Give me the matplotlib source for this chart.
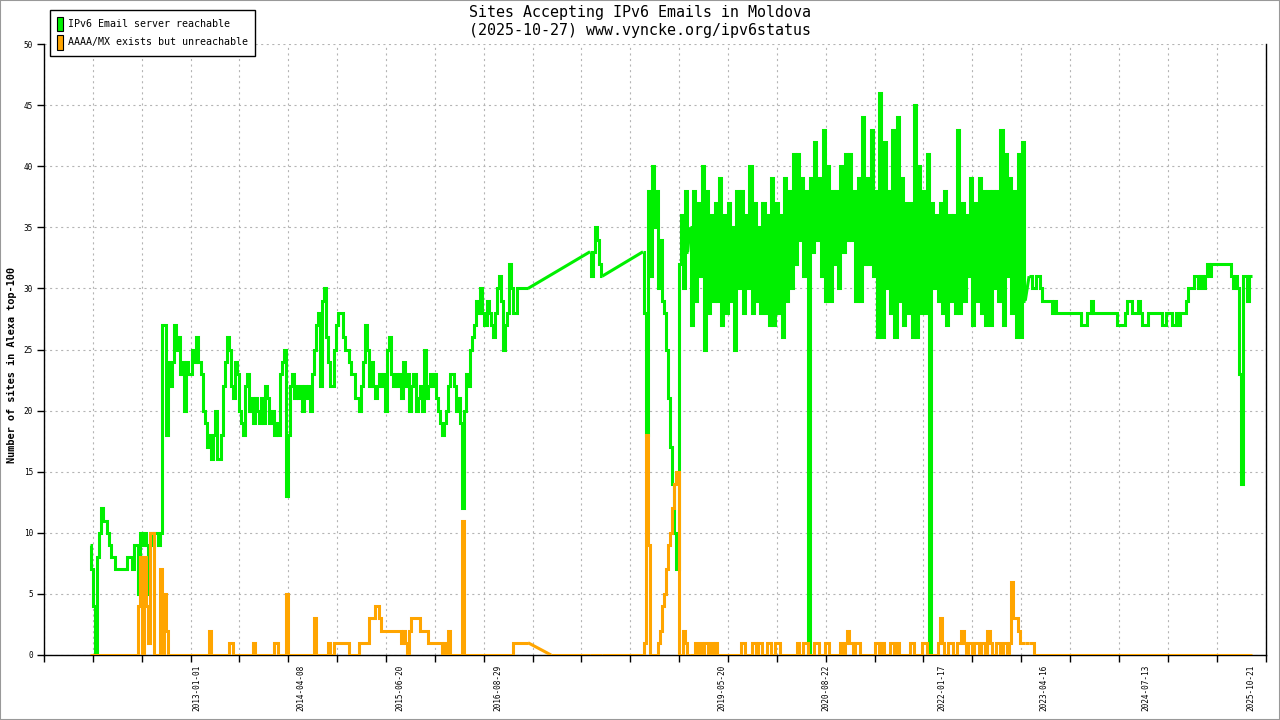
import numpy as np
import matplotlib
matplotlib.use('Agg')
import matplotlib.pyplot as plt
import matplotlib.dates as mdates
from matplotlib.patches import Patch, Rectangle

plt.rcParams['font.family'] = ['DejaVu Sans Mono']
plt.rcParams['lines.scale_dashes'] = False

# green = IPv6 Email server reachable, orange = AAAA/MX exists but unreachable
# each segment: start date, days between samples, values
g1_start, g1_step = '2011-09-14', 9.0
g1 = [9, 7, 4, 0, 8, 10, 12, 11, 11, 10,
      9, 8, 8, 7, 7, 7, 7, 7, 7, 8,
      8, 7, 9, 9, 5, 10, 9, 10, 9, 5,
      10, 9, 10, 10, 9, 10, 27, 27, 18, 24,
      22, 24, 27, 25, 26, 23, 24, 20, 24, 23,
      23, 25, 24, 26, 24, 23, 20, 19, 17, 18,
      16, 18, 20, 16, 16, 18, 22, 24, 26, 25,
      22, 21, 24, 23, 20, 19, 18, 22, 23, 20,
      21, 19, 21, 20, 19, 21, 19, 22, 21, 19,
      20, 18, 19, 18, 23, 24, 25, 13, 18, 22,
      23, 21, 22, 21, 22, 20, 22, 21, 22, 20,
      23, 25, 27, 28, 22, 29, 30, 26, 24, 22,
      22, 25, 27, 28, 28, 26, 25, 25, 24, 23,
      23, 21, 21, 20, 22, 24, 27, 25, 22, 24,
      22, 21, 22, 23, 22, 23, 20, 25, 26, 23,
      22, 23, 22, 23, 21, 24, 22, 23, 20, 22,
      23, 20, 21, 22, 20, 25, 21, 22, 23, 22,
      23, 21, 20, 19, 18, 19, 20, 22, 23, 23,
      22, 20, 21, 19, 12, 20, 23, 22, 25, 26,
      27, 29, 28, 30, 28, 27, 29, 28, 27, 26,
      28, 30, 31, 29, 25, 27, 28, 32, 30, 28,
      28, 30, 30, 30, 30, 30, 30]
o1 = [0, 0, 0, 0, 0, 0, 0, 0, 0, 0,
      0, 0, 0, 0, 0, 0, 0, 0, 0, 0,
      0, 0, 0, 0, 4, 8, 0, 8, 4, 1,
      10, 10, 0, 0, 0, 7, 0, 5, 2, 0,
      0, 0, 0, 0, 0, 0, 0, 0, 0, 0,
      0, 0, 0, 0, 0, 0, 0, 0, 0, 2,
      0, 0, 0, 0, 0, 0, 0, 0, 0, 1,
      1, 0, 0, 0, 0, 0, 0, 0, 0, 0,
      0, 1, 0, 0, 0, 0, 0, 0, 0, 0,
      0, 1, 1, 0, 0, 0, 0, 5, 0, 0,
      0, 0, 0, 0, 0, 0, 0, 0, 0, 0,
      0, 3, 0, 0, 0, 0, 0, 0, 1, 0,
      0, 1, 1, 1, 1, 1, 1, 1, 0, 0,
      0, 0, 0, 1, 1, 1, 1, 1, 3, 3,
      3, 4, 4, 3, 2, 2, 2, 2, 2, 2,
      2, 2, 2, 2, 1, 2, 1, 0, 2, 3,
      3, 3, 3, 2, 2, 2, 2, 1, 1, 1,
      1, 1, 1, 1, 0, 1, 0, 2, 0, 0,
      0, 0, 0, 0, 11, 0, 0, 0, 0, 0,
      0, 0, 0, 0, 0, 0, 0, 0, 0, 0,
      0, 0, 0, 0, 0, 0, 0, 0, 0, 1,
      1, 1, 1, 1, 1, 1, 1]

o_gap_dates = ['2017-04-21']
o_gap = [0]

g2_start, g2_step = '2017-10-11', 9.0
g2 = [33, 31, 33, 35, 34, 32, 31]
o2 = [0, 0, 0, 0, 0, 0, 0]

g3_start, g3_step = '2018-06-03', 9.0
g3 = [33, 28, 18, 38, 31, 40, 35, 38, 30, 34, 29, 28, 25, 21, 17, 14, 10, 7,
      32, 36, 30, 38, 33]
o3 = [0, 1, 18, 9, 0, 0, 0, 0, 1, 2, 4, 5, 7, 9, 10, 12, 14, 15,
      0, 0, 2, 1, 0]

g4_start, g4_step = '2018-12-28', 9.6
g4 = [35, 27, 38, 29, 37, 31, 40, 25, 38, 28, 36, 29, 37, 29, 39, 27, 36, 28, 37, 29,
      35, 25, 38, 30, 38, 28, 36, 30, 40, 28, 37, 29, 35, 28, 37, 28, 36, 27, 39, 27,
      37, 28, 36, 26, 39, 29, 38, 30, 41, 32, 41, 34, 39, 31, 38, 0, 39, 33, 42, 34,
      39, 31, 43, 29, 40, 29, 38, 32, 38, 30, 40, 33, 41, 34, 41, 34, 38, 29, 39, 29,
      44, 32, 39, 32, 43, 31, 38, 26,
      46, 26, 42, 30, 38, 28, 43, 26, 44, 29, 39, 27, 37, 28, 37, 26, 45, 26, 40, 28,
      38, 28, 41, 0, 37, 30, 36, 29, 37, 28, 38, 27, 36, 29, 36, 28, 43, 28, 37, 29,
      36, 31, 39, 27, 37, 29, 39, 28, 38, 27, 38, 27, 38, 30, 38, 29, 43, 27, 41, 31,
      39, 28, 38, 26, 41, 26, 42, 29]
o4 = [0, 0, 0, 1, 0, 1, 0, 1, 1, 0,
      1, 0, 1, 0, 0, 0, 0, 0, 0, 0,
      0, 0, 0, 0, 1, 1, 0, 0, 0, 1,
      1, 0, 1, 1, 0, 0, 1, 1, 0, 0,
      1, 1, 0, 0, 0, 0, 0, 0, 0, 0,
      1, 0, 0, 1, 1, 0, 0, 0, 1, 1,
      0, 0, 0, 1, 1, 0, 0, 0, 0, 0,
      1, 0, 1, 2, 1, 1, 0, 1, 1, 0,
      0, 0, 0, 0, 0, 0, 1, 1, 0, 1,
      0, 0, 0, 1, 1, 0, 1, 0, 0, 0,
      0, 0, 1, 1, 0, 0, 0, 0, 1, 1,
      0, 0, 0, 0, 0, 1, 3, 1, 0, 0,
      1, 1, 0, 0, 1, 1, 2, 1, 0, 1,
      1, 0, 1, 1, 0, 1, 1, 0, 2, 1,
      0, 0, 1, 1, 0, 1, 1, 0, 1, 6,
      3, 3, 2, 1, 1, 1]

g5_start, g5_step = '2023-02-10', 9.0
g5 = [31, 31, 30, 30, 31, 31, 30, 29, 29, 29,
      29, 29, 28, 29, 28, 28, 28, 28, 28, 28,
      28, 28, 28, 28, 28, 28, 27, 27, 27, 28,
      28, 29, 28, 28, 28, 28, 28, 28, 28, 28,
      28, 28, 28, 28, 27, 27, 27, 27, 28, 29,
      29, 28, 28, 28, 29, 28, 27, 27, 27, 28,
      28, 28, 28, 28, 28, 28, 27, 27, 28, 28,
      28, 27, 27, 28, 27, 28, 28, 28, 29, 30,
      30, 30, 31, 31, 30, 31, 30, 31, 32, 31,
      32, 32, 32, 32, 32, 32, 32, 32, 32, 32,
      31, 30, 31, 30, 23, 14, 31, 31, 29, 31,
      31]
o5 = [1, 1, 1, 0, 0, 0, 0, 0, 0, 0,
      0, 0, 0, 0, 0, 0, 0, 0, 0, 0,
      0, 0, 0, 0, 0, 0, 0, 0, 0, 0,
      0, 0, 0, 0, 0, 0, 0, 0, 0, 0,
      0, 0, 0, 0, 0, 0, 0, 0, 0, 0,
      0, 0, 0, 0, 0, 0, 0, 0, 0, 0,
      0, 0, 0, 0, 0, 0, 0, 0, 0, 0,
      0, 0, 0, 0, 0, 0, 0, 0, 0, 0,
      0, 0, 0, 0, 0, 0, 0, 0, 0, 0,
      0, 0, 0, 0, 0, 0, 0, 0, 0, 0,
      0, 0, 0, 0, 0, 0, 0, 0, 0, 0,
      0]

x_start, x_end = '2011-02-22', '2025-12-25'
label_dates = ['2013-01-01', '2014-04-08', '2015-06-20', '2016-08-29', '2019-05-20',
               '2020-08-22', '2022-01-17', '2023-04-16', '2024-07-13', '2025-10-21']

title = 'Sites Accepting IPv6 Emails in Moldova\n(2025-10-27) www.vyncke.org/ipv6status'
ylabel = 'Number of sites in Alexa top-100'
green_label = 'IPv6 Email server reachable'
orange_label = 'AAAA/MX exists but unreachable'
GREEN = '#00f000'
ORANGE = '#ffa500'


def seg(start, step, vals):
    x = mdates.datestr2num(start) + step * np.arange(len(vals))
    return x, np.asarray(vals, dtype=float)


parts_g = [seg(g1_start, g1_step, g1), seg(g2_start, g2_step, g2),
           seg(g3_start, g3_step, g3), seg(g4_start, g4_step, g4),
           seg(g5_start, g5_step, g5)]
parts_o = [seg(g1_start, g1_step, o1),
           (mdates.datestr2num(o_gap_dates), np.asarray(o_gap, float)),
           seg(g2_start, g2_step, o2), seg(g3_start, g3_step, o3),
           seg(g4_start, g4_step, o4), seg(g5_start, g5_step, o5)]

fig = plt.figure(figsize=(12.8, 7.2), dpi=100)
ax = fig.add_axes([44 / 1280, 65 / 720, (1265.5 - 44) / 1280, (655 - 44) / 720])


def draw(parts, color, z):
    kw = dict(color=color, lw=2.2, solid_joinstyle='miter', solid_capstyle='butt', zorder=z)
    for i, (x, y) in enumerate(parts):
        ax.plot(x, y, drawstyle='steps-mid', **kw)
        if i + 1 < len(parts):
            nx, ny = parts[i + 1]
            # straight join across missing days
            ax.plot([x[-1], nx[0]], [y[-1], ny[0]], **kw)


draw(parts_g, GREEN, 3)
draw(parts_o, ORANGE, 4)

xmin, xmax = mdates.datestr2num(x_start), mdates.datestr2num(x_end)
ax.set_xlim(xmin, xmax)
ax.set_ylim(0, 50)
ax.set_yticks(np.arange(0, 51, 5))
ax.set_xticks(np.linspace(xmin, xmax, 26))
ax.set_xticklabels([])
ax.set_xticks(mdates.datestr2num(label_dates), labels=label_dates, minor=True)
ax.tick_params(axis='x', which='minor', length=0, rotation=90, labelsize=5.6, pad=7)
ax.tick_params(axis='x', which='major', direction='out', length=5, width=1)
ax.tick_params(axis='y', direction='out', length=5, width=1, labelsize=5.6, pad=3)
ax.grid(True, which='major', color='#b4b4b4', lw=0.8, linestyle=(0, (1.5, 2.5)))
ax.set_axisbelow(True)
ax.spines['top'].set_visible(False)
for s in ['left', 'bottom', 'right']:
    ax.spines[s].set_linewidth(1.0)

fig.text(0.5, 1 - 5 / 720, title, ha='center', va='top', fontsize=10.8, linespacing=1.25)
fig.text(12 / 1280, 355 / 720, ylabel, rotation=90, ha='center', va='center',
         fontsize=7.4, fontweight='bold')

handles = [Patch(facecolor=GREEN, edgecolor='black', lw=0.8, label=green_label),
           Patch(facecolor=ORANGE, edgecolor='black', lw=0.8, label=orange_label)]
leg = fig.legend(handles=handles, loc='upper left', bbox_to_anchor=(50 / 1280, 1 - 10 / 720),
                 fancybox=False, edgecolor='black', framealpha=1, fontsize=7.2,
                 handlelength=0.6, handleheight=1.9, handletextpad=0.6,
                 labelspacing=0.35, borderpad=0.65, borderaxespad=0)
leg.get_frame().set_linewidth(1.0)

fig.patches.append(Rectangle((0, 0), 1, 1, transform=fig.transFigure, fill=False,
                             edgecolor='#999999', lw=1.5))

fig.savefig('out.png', dpi=100)
